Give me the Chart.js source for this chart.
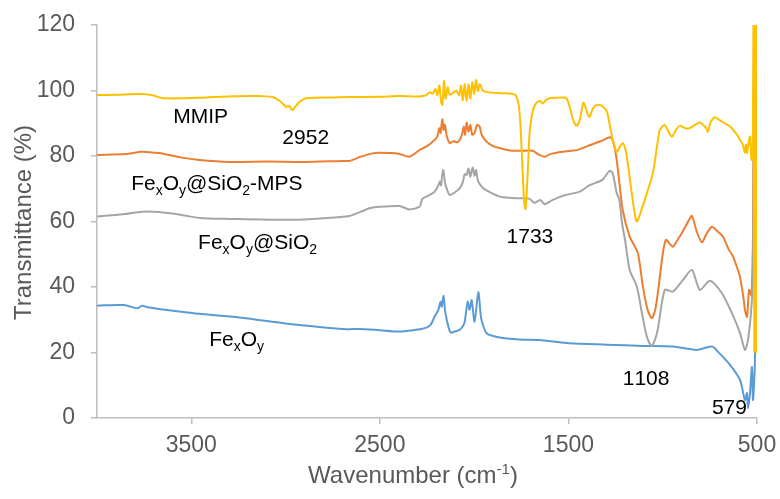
<!DOCTYPE html>
<html>
<head>
<meta charset="utf-8">
<script src="https://cdn.jsdelivr.net/npm/chart.js@4/dist/chart.umd.min.js"></script>
<style>
html,body{margin:0;padding:0;background:#fff;}
#wrap{width:780px;height:499px;}
</style>
</head>
<body>
<div id="wrap"><canvas id="c" width="780" height="499"></canvas></div>
<script>
// ---- data (wavenumber cm-1, transmittance %) ----
const mmipWn = [4000,3900,3761,3700,3655,3550,3458,3300,3150,3071,3030,2996,2980,2964,2930,2890,2750,2662,2500,2396,2290,2253,2235,2220,2205,2195,2185,2175,2168,2160,2152,2140,2130,2110,2095,2080,2070,2060,2050,2040,2030,2020,2010,2000,1990,1980,1970,1955,1930,1880,1800,1780,1765,1755,1745,1735,1728,1720,1712,1706,1690,1670,1650,1636,1620,1600,1530,1510,1493,1475,1456,1440,1425,1419,1410,1395,1387,1370,1350,1323,1300,1291,1265,1244,1225,1212,1200,1190,1170,1150,1137,1110,1084,1052,1030,1015,989,970,951,930,909,880,856,830,803,785,770,760,745,723,700,670,643,620,600,590,575,565,558,553,545,537,530,527,522,518,515,512,509,506,503,500];
const mmipT  = [98.6,98.7,98.9,98.5,97.7,97.6,97.8,98.2,98.3,98.0,96.8,95.0,95.3,94.0,96.3,97.6,97.9,98.0,98.1,98.3,98.2,98.6,99.5,99.0,100.5,98.5,101.5,96.5,95.6,102.9,97.5,101.0,98.8,99.3,100.0,98.5,101.5,97.0,102.0,96.8,101.8,97.5,102.5,99.0,103.2,99.8,102.0,100.0,99.5,99.2,99.0,98.6,96.0,90.0,78.0,66.0,63.8,70.0,80.0,87.0,93.5,96.2,96.8,96.0,97.0,97.6,97.9,97.6,95.0,91.0,89.2,91.0,95.5,96.3,95.0,92.3,92.0,94.5,95.6,95.3,94.0,92.5,84.9,81.3,83.0,84.0,82.5,79.8,71.0,63.0,60.0,64.0,68.6,74.8,83.0,88.0,89.5,87.5,85.9,88.0,89.2,88.5,88.5,89.5,90.2,89.5,88.5,87.4,90.5,91.8,91.0,90.0,89.0,87.5,86.0,84.9,83.5,81.0,83.5,80.9,84.0,85.9,79.0,78.8,85.0,125,20,125,20,125,20,125];

const mpsWn = [4000,3850,3761,3700,3671,3550,3458,3299,3100,2900,2700,2662,2600,2539,2502,2400,2343,2290,2250,2210,2195,2185,2178,2172,2168,2162,2155,2145,2130,2110,2090,2077,2065,2055,2048,2040,2030,2020,2010,1998,1985,1971,1960,1934,1900,1865,1800,1750,1690,1660,1626,1600,1583,1500,1456,1400,1330,1281,1265,1244,1212,1175,1132,1105,1080,1058,1040,1026,1000,983,960,946,920,898,870,845,820,792,770,739,710,681,650,627,600,590,570,564,553,542,530,527,521,516];
const mpsT  = [80.3,80.6,81.3,81.0,80.9,79.5,78.8,78.2,78.3,78.2,78.5,78.5,79.8,80.8,81.0,80.7,79.8,81.8,83.0,84.9,86.0,88.5,87.0,90.0,91.2,88.0,89.5,86.0,84.0,84.5,84.2,84.9,86.5,89.0,86.5,90.2,87.5,89.5,86.5,87.0,89.5,89.0,86.5,84.4,83.0,82.4,81.6,81.6,81.6,80.5,79.8,80.5,80.8,81.5,81.8,83.0,84.5,85.7,84.9,78.8,63.5,55.4,50.4,40.1,33.0,30.5,33.0,38.1,50.0,54.4,53.0,52.3,54.5,56.5,59.5,61.7,57.0,53.6,56.0,58.4,57.0,55.4,51.5,49.3,45.0,43.1,36.0,33.0,30.9,39.1,37.5,40.0,56.9,125];

const sio2Wn = [4000,3850,3761,3671,3550,3458,3299,2964,2800,2662,2600,2550,2502,2396,2343,2290,2274,2240,2210,2190,2182,2175,2170,2163,2155,2145,2130,2100,2077,2060,2050,2040,2030,2020,2008,1998,1990,1980,1960,1934,1865,1800,1759,1706,1680,1650,1626,1583,1520,1440,1387,1320,1281,1265,1244,1230,1217,1200,1175,1137,1110,1084,1058,1030,989,946,893,845,803,750,686,633,590,564,548,532,521,515];
const sio2T  = [61.5,62.3,63.0,62.9,62.0,61.1,60.8,60.5,61.0,61.7,63.0,64.1,64.5,64.7,63.7,64.5,67.0,68.0,69.1,71.0,72.2,71.0,74.0,75.7,72.0,70.0,68.1,69.0,70.1,72.0,74.5,74.2,76.2,73.7,76.5,74.0,75.7,72.5,70.6,69.5,67.6,67.2,67.1,66.9,65.7,66.6,65.3,66.6,68.0,69.1,71.1,72.7,75.5,74.7,68.7,66.6,60.0,54.4,45.2,40.1,32.0,24.8,22.0,26.0,39.1,38.6,42.1,45.2,39.1,41.9,38.1,32.0,25.9,20.8,23.8,32.0,43.1,125];

const fexWn = [4000,3857,3787,3761,3730,3671,3565,3458,3246,2927,2677,2608,2500,2396,2300,2290,2253,2230,2210,2190,2178,2172,2162,2155,2141,2125,2100,2077,2060,2050,2034,2024,2013,1998,1978,1966,1961,1934,1865,1759,1653,1546,1493,1300,1100,946,820,739,700,643,590,564,553,548,537,527,521,511,505];
const fexT  = [34.3,34.5,33.5,34.3,33.8,33.3,32.5,31.8,30.7,28.4,27.1,27.2,26.8,26.4,27.0,27.1,27.6,28.5,30.9,33.0,35.5,34.0,37.3,33.0,28.9,26.1,26.5,26.9,28.0,29.4,35.5,33.0,36.0,29.4,38.4,32.0,29.9,25.9,24.6,24.0,23.8,23.1,22.8,22.4,22.0,21.8,20.8,21.8,19.8,16.2,11.6,5.5,7.6,3.0,7.6,15.6,5.5,17.7,82.0];

const xTickVals = [3500, 2500, 1500, 500];
const yTickVals = [0, 20, 40, 60, 80, 100, 120];

const seriesNames = ['MMIP', 'FexOy@SiO2', 'FexOy@SiO2-MPS', 'FexOy'];

// annotation labels ( "_c" = subscript character ), anchored at data coords (left, baseline)
const annText = ['MMIP', '2952', 'Fe_xO_y@SiO_2-MPS', 'Fe_xO_y@SiO_2', '1733', 'Fe_xO_y', '1108', '579'];
const annWn   = [3596, 3017, 3819, 3464, 1828, 3405, 1212, 739];
const annT    = [90.1, 83.7, 69.6, 51.6, 53.4, 22.0, 10.1, 1.2];

const xTitle = 'Wavenumber (cm';
const xTitleSup = '-1';
const yTitle = 'Transmittance (%)';

// ---- build ----
function pts(wn, t){ return wn.map((w,i)=>({x:w, y:t[i]})); }
const FONT = '"Liberation Sans", Arial, sans-serif';

function drawRich(ctx, s, x, y, size){
  let cx = x;
  for (let i=0;i<s.length;i++){
    if (s[i]==='_' && i+1<s.length){
      ctx.font = Math.round(size*0.66)+'px '+FONT;
      ctx.fillText(s[i+1], cx, y+size*0.25);
      cx += ctx.measureText(s[i+1]).width;
      i++;
    } else {
      ctx.font = size+'px '+FONT;
      ctx.fillText(s[i], cx, y);
      cx += ctx.measureText(s[i]).width;
    }
  }
}

const textPlugin = {
  id:'texts',
  afterDraw(chart){
    const ctx = chart.ctx, xs = chart.scales.x, ys = chart.scales.y, ca = chart.chartArea;
    ctx.save();
    ctx.fillStyle = '#000';
    ctx.textBaseline = 'alphabetic';
    ctx.textAlign = 'left';
    for (let i=0;i<annText.length;i++){
      drawRich(ctx, annText[i], xs.getPixelForValue(annWn[i]), ys.getPixelForValue(annT[i]), 21);
    }
    // x title with superscript
    ctx.fillStyle = '#595959';
    ctx.font = '24px '+FONT;
    const w1 = ctx.measureText(xTitle).width;
    ctx.font = '15px '+FONT;
    const w2 = ctx.measureText(xTitleSup).width;
    ctx.font = '24px '+FONT;
    const w3 = ctx.measureText(')').width;
    const total = w1+w2+w3;
    let sx = (ca.left+ca.right)/2 - 14 - total/2;
    const by = ca.bottom + 65;
    ctx.fillText(xTitle, sx, by);
    ctx.font = '15px '+FONT;
    ctx.fillText(xTitleSup, sx+w1, by-9);
    ctx.font = '24px '+FONT;
    ctx.fillText(')', sx+w1+w2, by);
    // y title
    ctx.save();
    ctx.translate(24, (ca.top+ca.bottom)/2 + 1);
    ctx.rotate(-Math.PI/2);
    ctx.textAlign = 'center';
    ctx.textBaseline = 'middle';
    ctx.fillText(yTitle, 0, 0);
    ctx.restore();
    ctx.restore();
  }
};

const ds = (label, data, color) => ({
  label, data, borderColor: color, backgroundColor: color,
  borderWidth: 2, pointRadius: 0, fill: false, tension: 0.25
});

new Chart(document.getElementById('c'), {
  type: 'line',
  data: {
    datasets: [
      ds(seriesNames[0], pts(mmipWn, mmipT), '#FFC000'),
      ds(seriesNames[1], pts(sio2Wn, sio2T), '#A5A5A5'),
      ds(seriesNames[2], pts(mpsWn, mpsT), '#ED7D31'),
      ds(seriesNames[3], pts(fexWn, fexT), '#5B9BD5')
    ]
  },
  options: {
    responsive: false,
    animation: false,
    devicePixelRatio: 1,
    layout: { padding: { left: 0, right: 23, top: 25, bottom: 0 } },
    plugins: { legend: { display: false }, tooltip: { enabled: false } },
    scales: {
      x: {
        type: 'linear', reverse: true, min: 500, max: 4000,
        afterBuildTicks: (a) => { a.ticks = xTickVals.map(v => ({value: v})); },
        afterFit: (a) => { a.height = 81; a.paddingLeft = 0; a.paddingRight = 0; },
        grid: { display: true, drawOnChartArea: false, drawTicks: true, tickLength: 6, color: '#BFBFBF', lineWidth: 1.5 },
        border: { display: true, color: '#BFBFBF', width: 1.5 },
        ticks: { color: '#595959', font: { size: 23, family: FONT }, padding: 8, maxRotation: 0, autoSkip: false,
                 callback: (v) => String(v) }
      },
      y: {
        min: 0, max: 120,
        afterBuildTicks: (a) => { a.ticks = yTickVals.map(v => ({value: v})); },
        afterFit: (a) => { a.width = 97; a.paddingTop = 0; a.paddingBottom = 0; },
        grid: { display: true, drawOnChartArea: false, drawTicks: true, tickLength: 6, color: '#BFBFBF', lineWidth: 1.5 },
        border: { display: true, color: '#BFBFBF', width: 1.5 },
        ticks: { color: '#595959', font: { size: 23, family: FONT }, padding: 16, callback: (v) => String(v) }
      }
    }
  },
  plugins: [textPlugin]
});
</script>
</body>
</html>
